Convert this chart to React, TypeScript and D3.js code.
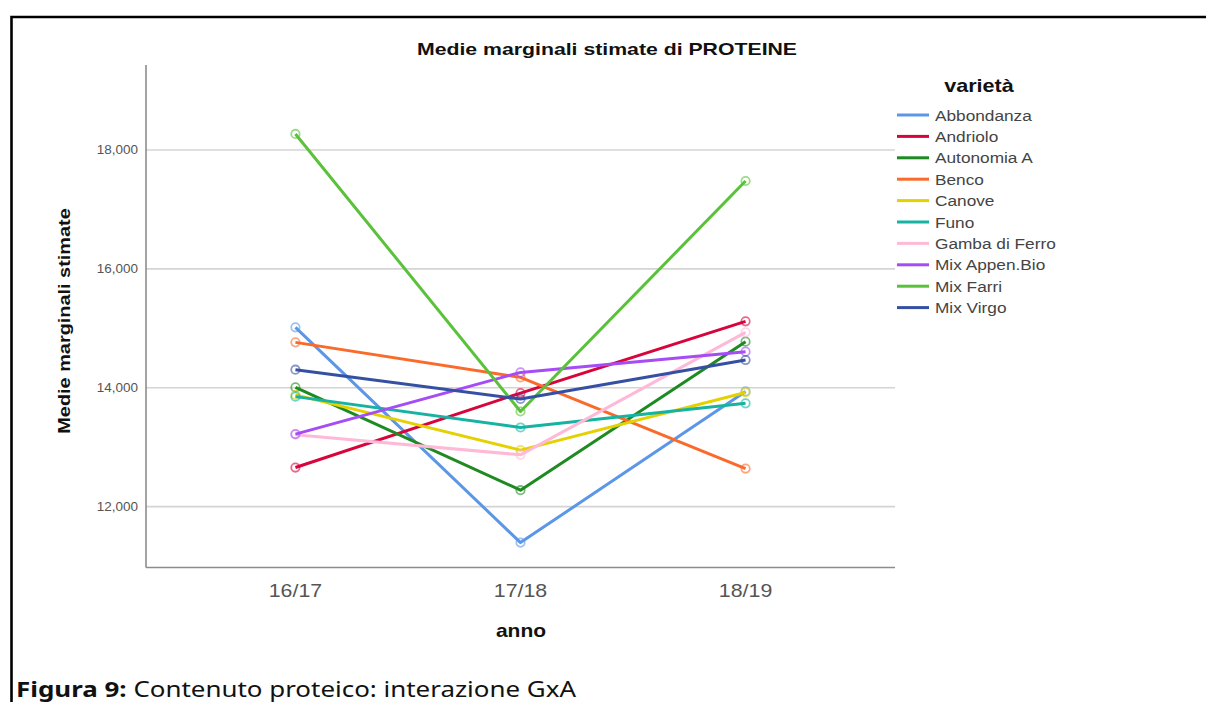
import React from "react";
import * as d3 from "d3";

const years = ["16/17", "17/18", "18/19"];
const varieties = [
  "Abbondanza",
  "Andriolo",
  "Autonomia A",
  "Benco",
  "Canove",
  "Funo",
  "Gamba di Ferro",
  "Mix Appen.Bio",
  "Mix Farri",
  "Mix Virgo",
];
const colors = [
  "#5b97e6",
  "#d8043c",
  "#1f8a22",
  "#fa6a2a",
  "#e3d100",
  "#16b2a2",
  "#ffb9d8",
  "#a54cf7",
  "#5ac23a",
  "#3550a2",
];
const abbondanza = [15016, 11394, 13938];
const andriolo = [12657, 13910, 15117];
const autonomiaA = [14005, 12276, 14775];
const benco = [14763, 14174, 12640];
const canove = [13880, 12950, 13920];
const funo = [13850, 13331, 13737];
const gambaDiFerro = [13210, 12871, 14932];
const mixAppenBio = [13220, 14258, 14607];
const mixFarri = [18270, 13600, 17478];
const mixVirgo = [14303, 13810, 14466];
const seriesValues = [
  abbondanza,
  andriolo,
  autonomiaA,
  benco,
  canove,
  funo,
  gambaDiFerro,
  mixAppenBio,
  mixFarri,
  mixVirgo,
];
const yTicks = [12000, 14000, 16000, 18000];

const W = 1206;
const H = 702;
const left = 146;
const right = 895;
const top = 65;
const bottom = 567.5;
const font = "'Liberation Sans', Arial, sans-serif";

function SText(props: {
  x: number;
  y: number;
  sx: number;
  size: number;
  anchor?: string;
  bold?: boolean;
  fill?: string;
  rotate?: number;
  children: React.ReactNode;
}) {
  const { x, y, sx, size, anchor = "start", bold, fill = "#111", rotate = 0, children } = props;
  return (
    <text
      transform={`translate(${x},${y}) rotate(${rotate}) scale(${sx},1)`}
      textAnchor={anchor}
      fontFamily={font}
      fontSize={size}
      fontWeight={bold ? "bold" : "normal"}
      fill={fill}
    >
      {children}
    </text>
  );
}

export default function App() {
  const x = d3.scalePoint<string>().domain(years).range([left, right]).padding(0.664);
  const y = d3.scaleLinear().domain([10975, 19430]).range([bottom, top]);
  const line = d3
    .line<number>()
    .x((_, i) => x(years[i]) as number)
    .y((d) => y(d));
  const fmt = d3.format(",");

  return (
    <svg
      width={W}
      height={H}
      style={{ position: "absolute", left: 0, top: 0, background: "#fff" }}
    >
      <rect x={0} y={0} width={W} height={H} fill="#fff" />
      {/* frame */}
      <path d={`M11.5,${H + 5} V17 H${W + 5}`} fill="none" stroke="#000" strokeWidth={2.6} />

      {/* title */}
      <SText x={607} y={55} sx={1.25} size={17} anchor="middle" bold>
        Medie marginali stimate di PROTEINE
      </SText>

      {/* gridlines */}
      {yTicks.map((t) => (
        <line key={t} x1={left} x2={right} y1={y(t)} y2={y(t)} stroke="#d4d4d4" strokeWidth={1.6} />
      ))}
      {/* axes */}
      <line x1={left} x2={left} y1={top} y2={bottom} stroke="#8c8c8c" strokeWidth={1.6} />
      <line x1={left} x2={right} y1={bottom} y2={bottom} stroke="#8c8c8c" strokeWidth={1.6} />

      {yTicks.map((t) => (
        <SText key={t} x={138} y={y(t) + 4.5} sx={1.08} size={12.5} anchor="end" fill="#555">
          {fmt(t)}
        </SText>
      ))}
      {years.map((yr) => (
        <SText key={yr} x={x(yr) as number} y={597} sx={1.22} size={17.5} anchor="middle" fill="#555">
          {yr}
        </SText>
      ))}
      <SText x={521} y={637} sx={1.2} size={17.5} anchor="middle" bold>
        anno
      </SText>
      <SText x={70} y={321} sx={1.17} size={17} anchor="middle" bold rotate={-90}>
        Medie marginali stimate
      </SText>

      {/* series */}
      {seriesValues.map((vals, si) => (
        <g key={varieties[si]}>
          <path d={line(vals) as string} fill="none" stroke={colors[si]} strokeWidth={3} strokeLinejoin="round" />
          {vals.map((v, i) => (
            <circle
              key={i}
              cx={x(years[i])}
              cy={y(v)}
              r={4.2}
              fill="none"
              stroke={colors[si]}
              strokeOpacity={0.6}
              strokeWidth={1.8}
            />
          ))}
        </g>
      ))}

      {/* legend */}
      <SText x={979} y={92} sx={1.2} size={18} anchor="middle" bold>
        varietà
      </SText>
      {varieties.map((name, i) => {
        const ly = 115 + i * 21.4;
        return (
          <g key={name}>
            <line x1={897} x2={929} y1={ly} y2={ly} stroke={colors[i]} strokeWidth={3} />
            <SText x={935} y={ly + 5.5} sx={1.15} size={15} fill="#444">
              {name}
            </SText>
          </g>
        );
      })}

      {/* caption */}
      <text
        x={16}
        y={697}
        fontFamily="'Noto Sans', sans-serif"
        fontSize={22}
        fill="#111"
        textLength={560}
        lengthAdjust="spacingAndGlyphs"
      >
        <tspan fontWeight="bold">Figura 9:</tspan>
        <tspan> Contenuto proteico: interazione GxA</tspan>
      </text>
    </svg>
  );
}
